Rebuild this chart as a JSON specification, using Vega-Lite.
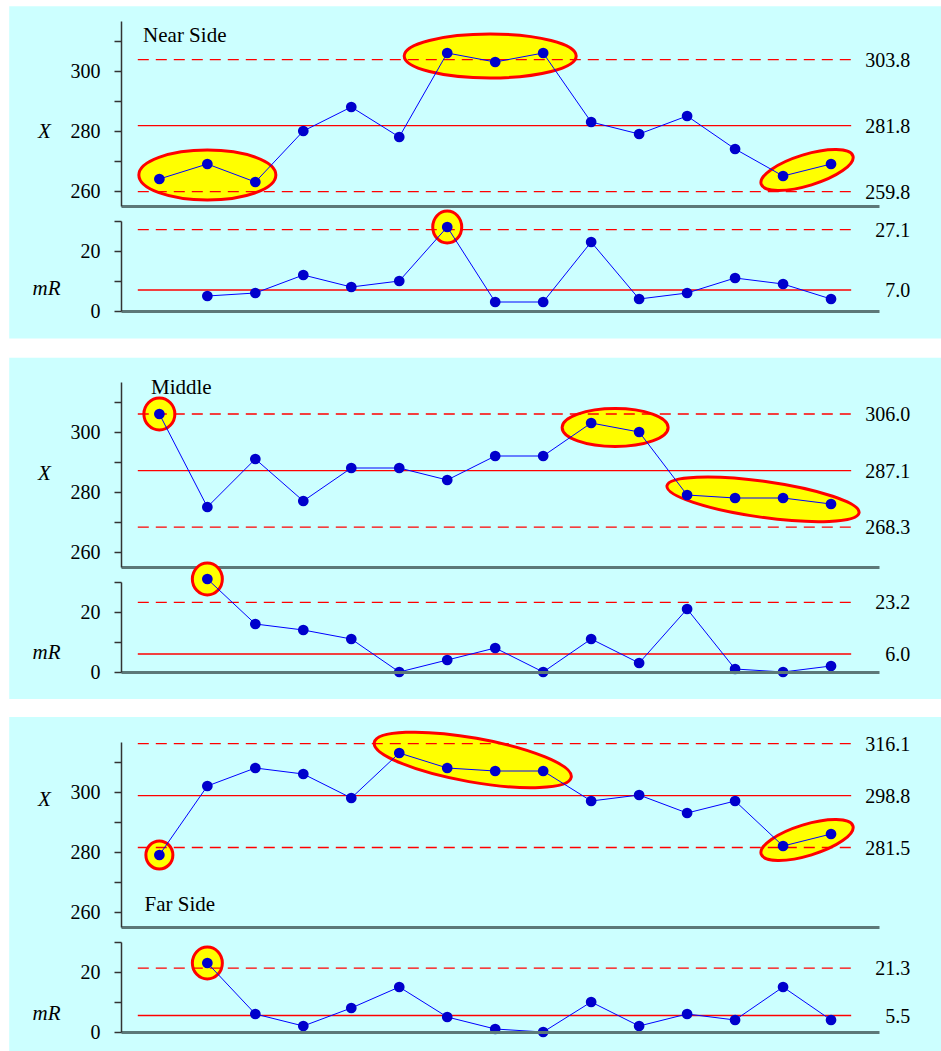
{
  "$schema": "https://vega.github.io/schema/vega-lite/v6.json",
  "background": "white",
  "padding": {"left": 9, "top": 6, "right": 0, "bottom": 1},
  "spacing": 18,
  "datasets": {
    "pts": [
      {"panel": "Near Side", "i": 1, "x": 264, "mr": null, "gx": "a", "gr": ""},
      {"panel": "Near Side", "i": 2, "x": 269, "mr": 5, "gx": "a", "gr": ""},
      {"panel": "Near Side", "i": 3, "x": 263, "mr": 6, "gx": "a", "gr": ""},
      {"panel": "Near Side", "i": 4, "x": 280, "mr": 12, "gx": "", "gr": ""},
      {"panel": "Near Side", "i": 5, "x": 288, "mr": 8, "gx": "", "gr": ""},
      {"panel": "Near Side", "i": 6, "x": 278, "mr": 10, "gx": "", "gr": ""},
      {"panel": "Near Side", "i": 7, "x": 306, "mr": 28, "gx": "b", "gr": "d"},
      {"panel": "Near Side", "i": 8, "x": 303, "mr": 3, "gx": "b", "gr": ""},
      {"panel": "Near Side", "i": 9, "x": 306, "mr": 3, "gx": "b", "gr": ""},
      {"panel": "Near Side", "i": 10, "x": 283, "mr": 23, "gx": "", "gr": ""},
      {"panel": "Near Side", "i": 11, "x": 279, "mr": 4, "gx": "", "gr": ""},
      {"panel": "Near Side", "i": 12, "x": 285, "mr": 6, "gx": "", "gr": ""},
      {"panel": "Near Side", "i": 13, "x": 274, "mr": 11, "gx": "", "gr": ""},
      {"panel": "Near Side", "i": 14, "x": 265, "mr": 9, "gx": "c", "gr": ""},
      {"panel": "Near Side", "i": 15, "x": 269, "mr": 4, "gx": "c", "gr": ""},
      {"panel": "Middle", "i": 1, "x": 306, "mr": null, "gx": "a", "gr": ""},
      {"panel": "Middle", "i": 2, "x": 275, "mr": 31, "gx": "", "gr": "d"},
      {"panel": "Middle", "i": 3, "x": 291, "mr": 16, "gx": "", "gr": ""},
      {"panel": "Middle", "i": 4, "x": 277, "mr": 14, "gx": "", "gr": ""},
      {"panel": "Middle", "i": 5, "x": 288, "mr": 11, "gx": "", "gr": ""},
      {"panel": "Middle", "i": 6, "x": 288, "mr": 0, "gx": "", "gr": ""},
      {"panel": "Middle", "i": 7, "x": 284, "mr": 4, "gx": "", "gr": ""},
      {"panel": "Middle", "i": 8, "x": 292, "mr": 8, "gx": "", "gr": ""},
      {"panel": "Middle", "i": 9, "x": 292, "mr": 0, "gx": "", "gr": ""},
      {"panel": "Middle", "i": 10, "x": 303, "mr": 11, "gx": "b", "gr": ""},
      {"panel": "Middle", "i": 11, "x": 300, "mr": 3, "gx": "b", "gr": ""},
      {"panel": "Middle", "i": 12, "x": 279, "mr": 21, "gx": "c", "gr": ""},
      {"panel": "Middle", "i": 13, "x": 278, "mr": 1, "gx": "c", "gr": ""},
      {"panel": "Middle", "i": 14, "x": 278, "mr": 0, "gx": "c", "gr": ""},
      {"panel": "Middle", "i": 15, "x": 276, "mr": 2, "gx": "c", "gr": ""},
      {"panel": "Far Side", "i": 1, "x": 279, "mr": null, "gx": "a", "gr": ""},
      {"panel": "Far Side", "i": 2, "x": 302, "mr": 23, "gx": "", "gr": "d"},
      {"panel": "Far Side", "i": 3, "x": 308, "mr": 6, "gx": "", "gr": ""},
      {"panel": "Far Side", "i": 4, "x": 306, "mr": 2, "gx": "", "gr": ""},
      {"panel": "Far Side", "i": 5, "x": 298, "mr": 8, "gx": "", "gr": ""},
      {"panel": "Far Side", "i": 6, "x": 313, "mr": 15, "gx": "b", "gr": ""},
      {"panel": "Far Side", "i": 7, "x": 308, "mr": 5, "gx": "b", "gr": ""},
      {"panel": "Far Side", "i": 8, "x": 307, "mr": 1, "gx": "b", "gr": ""},
      {"panel": "Far Side", "i": 9, "x": 307, "mr": 0, "gx": "b", "gr": ""},
      {"panel": "Far Side", "i": 10, "x": 297, "mr": 10, "gx": "", "gr": ""},
      {"panel": "Far Side", "i": 11, "x": 299, "mr": 2, "gx": "", "gr": ""},
      {"panel": "Far Side", "i": 12, "x": 293, "mr": 6, "gx": "", "gr": ""},
      {"panel": "Far Side", "i": 13, "x": 297, "mr": 4, "gx": "", "gr": ""},
      {"panel": "Far Side", "i": 14, "x": 282, "mr": 15, "gx": "c", "gr": ""},
      {"panel": "Far Side", "i": 15, "x": 286, "mr": 4, "gx": "c", "gr": ""}
    ],
    "limits": [
      {"panel": "Near Side", "chart": "X", "kind": "limit", "v": 303.8},
      {"panel": "Near Side", "chart": "X", "kind": "center", "v": 281.8},
      {"panel": "Near Side", "chart": "X", "kind": "limit", "v": 259.8},
      {"panel": "Near Side", "chart": "mR", "kind": "limit", "v": 27.1},
      {"panel": "Near Side", "chart": "mR", "kind": "center", "v": 7.0},
      {"panel": "Middle", "chart": "X", "kind": "limit", "v": 306.0},
      {"panel": "Middle", "chart": "X", "kind": "center", "v": 287.1},
      {"panel": "Middle", "chart": "X", "kind": "limit", "v": 268.3},
      {"panel": "Middle", "chart": "mR", "kind": "limit", "v": 23.2},
      {"panel": "Middle", "chart": "mR", "kind": "center", "v": 6.0},
      {"panel": "Far Side", "chart": "X", "kind": "limit", "v": 316.1},
      {"panel": "Far Side", "chart": "X", "kind": "center", "v": 298.8},
      {"panel": "Far Side", "chart": "X", "kind": "limit", "v": 281.5},
      {"panel": "Far Side", "chart": "mR", "kind": "limit", "v": 21.3},
      {"panel": "Far Side", "chart": "mR", "kind": "center", "v": 5.5}
    ]
  },
  "vconcat": [
    {
      "spacing": 15,
      "bounds": "flush",
      "vconcat": [
        {
          "width": 758, "height": 185,
          "layer": [
            {"data": {"values": [{}]}, "mark": {"type": "rect", "color": "#ccffff"},
             "encoding": {"x": {"datum": -2.13}, "x2": {"datum": 17.3}, "y": {"datum": 321.57}, "y2": {"datum": 210.8}}},
            {"data": {"name": "pts"}, "transform": [{"filter": "datum.panel === 'Near Side' && datum.gx === 'a'"}],
             "mark": {"type": "point", "shape": "M -68.5 0 A 68.5 25 0 1 0 68.5 0 A 68.5 25 0 1 0 -68.5 0 Z", "size": 4, "filled": true, "fill": "#ffff00", "stroke": "#ff0000", "strokeWidth": 3, "opacity": 1},
             "encoding": {"x": {"aggregate": "mean", "field": "i", "type": "quantitative"}, "y": {"aggregate": "mean", "field": "x", "type": "quantitative"}}},
            {"data": {"name": "pts"}, "transform": [{"filter": "datum.panel === 'Near Side' && datum.gx === 'b'"}],
             "mark": {"type": "point", "shape": "M -91 0 A 86 22 0 1 0 81 0 A 86 22 0 1 0 -91 0 Z", "size": 4, "filled": true, "fill": "#ffff00", "stroke": "#ff0000", "strokeWidth": 3, "opacity": 1},
             "encoding": {"x": {"aggregate": "mean", "field": "i", "type": "quantitative"}, "y": {"aggregate": "mean", "field": "x", "type": "quantitative"}}},
            {"data": {"name": "pts"}, "transform": [{"filter": "datum.panel === 'Near Side' && datum.gx === 'c'"}],
             "mark": {"type": "point", "shape": "M -48 0 A 48 15.5 0 1 0 48 0 A 48 15.5 0 1 0 -48 0 Z", "size": 4, "angle": 343, "filled": true, "fill": "#ffff00", "stroke": "#ff0000", "strokeWidth": 3, "opacity": 1},
             "encoding": {"x": {"aggregate": "mean", "field": "i", "type": "quantitative"}, "y": {"aggregate": "mean", "field": "x", "type": "quantitative"}}},
            {"data": {"name": "limits"}, "transform": [{"filter": "datum.panel === 'Near Side' && datum.chart === 'X'"}],
             "mark": {"type": "rule", "color": "#ff0000", "strokeWidth": 1.3},
             "encoding": {"x": {"datum": 0.55}, "x2": {"datum": 15.42}, "y": {"field": "v", "type": "quantitative"},
               "strokeDash": {"field": "kind", "type": "nominal", "scale": {"domain": ["center", "limit"], "range": [[1, 0], [11, 7]]}, "legend": null}}},
            {"data": {"name": "pts"}, "transform": [{"filter": "datum.panel === 'Near Side'"}],
             "mark": {"type": "line", "color": "#0000ff", "strokeWidth": 1},
             "encoding": {
               "x": {"field": "i", "type": "quantitative", "scale": {"domain": [0.2, 16], "nice": false, "zero": false}, "axis": {"zindex": 1, "title": null, "labels": false, "ticks": false, "domainColor": "#5c7878", "domainWidth": 3}},
               "y": {"field": "x", "type": "quantitative", "scale": {"domain": [255, 316.67], "nice": false, "zero": false},
                 "axis": {"zindex": 1, "title": "X", "tickCount": 20, "values": [260, 270, 280, 290, 300, 310], "labelExpr": "datum.value % 20 === 0 ? datum.label : ''", "labelOverlap": false, "titleFontStyle": "italic", "titleAngle": 0, "titleAlign": "center", "titleBaseline": "middle", "titleX": -77, "titleY": 110}}}},
            {"data": {"name": "pts"}, "transform": [{"filter": "datum.panel === 'Near Side'"}],
             "mark": {"type": "circle", "color": "#0000cc", "size": 115, "opacity": 1},
             "encoding": {"x": {"field": "i", "type": "quantitative"}, "y": {"field": "x", "type": "quantitative"}}},
            {"data": {"name": "limits"}, "transform": [{"filter": "datum.panel === 'Near Side' && datum.chart === 'X'"}],
             "mark": {"type": "text", "align": "right", "baseline": "middle", "dy": 1, "font": "Liberation Serif", "fontSize": 20, "color": "#000000"},
             "encoding": {"x": {"datum": 16.65}, "y": {"field": "v", "type": "quantitative"}, "text": {"field": "v", "type": "quantitative", "format": ".1f"}}},
            {"data": {"values": [{"t": "Near Side"}]},
             "mark": {"type": "text", "align": "left", "baseline": "alphabetic", "font": "Liberation Serif", "fontSize": 21, "color": "#000000"},
             "encoding": {"x": {"datum": 0.66}, "y": {"datum": 309.67}, "text": {"field": "t"}}}
          ]
        },
        {
          "width": 758, "height": 90,
          "layer": [
            {"data": {"name": "pts"}, "transform": [{"filter": "datum.panel === 'Near Side' && datum.gr === 'd'"}],
             "mark": {"type": "point", "shape": "M -14.5 0 A 14.5 16 0 1 0 14.5 0 A 14.5 16 0 1 0 -14.5 0 Z", "size": 4, "filled": true, "fill": "#ffff00", "stroke": "#ff0000", "strokeWidth": 3, "opacity": 1},
             "encoding": {"x": {"aggregate": "mean", "field": "i", "type": "quantitative"}, "y": {"aggregate": "mean", "field": "mr", "type": "quantitative"}}},
            {"data": {"name": "limits"}, "transform": [{"filter": "datum.panel === 'Near Side' && datum.chart === 'mR'"}],
             "mark": {"type": "rule", "color": "#ff0000", "strokeWidth": 1.3},
             "encoding": {"x": {"datum": 0.55}, "x2": {"datum": 15.42}, "y": {"field": "v", "type": "quantitative"},
               "strokeDash": {"field": "kind", "type": "nominal", "scale": {"domain": ["center", "limit"], "range": [[1, 0], [11, 7]]}, "legend": null}}},
            {"data": {"name": "pts"}, "transform": [{"filter": "datum.panel === 'Near Side' && datum.mr != null"}],
             "mark": {"type": "line", "color": "#0000ff", "strokeWidth": 1},
             "encoding": {
               "x": {"field": "i", "type": "quantitative", "scale": {"domain": [0.2, 16], "nice": false, "zero": false}, "axis": {"zindex": 1, "title": null, "labels": false, "ticks": false, "domainColor": "#5c7878", "domainWidth": 3}},
               "y": {"field": "mr", "type": "quantitative", "scale": {"domain": [0, 30], "nice": false, "zero": false},
                 "axis": {"zindex": 1, "title": "mR", "tickCount": 20, "values": [0, 10, 20, 30], "labelExpr": "datum.value % 20 === 0 ? datum.label : ''", "labelOverlap": false, "titleFontStyle": "italic", "titleAngle": 0, "titleAlign": "center", "titleBaseline": "middle", "titleX": -75, "titleY": 67}}}},
            {"data": {"name": "pts"}, "transform": [{"filter": "datum.panel === 'Near Side' && datum.mr != null"}],
             "mark": {"type": "circle", "color": "#0000cc", "size": 115, "opacity": 1},
             "encoding": {"x": {"field": "i", "type": "quantitative"}, "y": {"field": "mr", "type": "quantitative"}}},
            {"data": {"name": "limits"}, "transform": [{"filter": "datum.panel === 'Near Side' && datum.chart === 'mR'"}],
             "mark": {"type": "text", "align": "right", "baseline": "middle", "dy": 1, "font": "Liberation Serif", "fontSize": 20, "color": "#000000"},
             "encoding": {"x": {"datum": 16.65}, "y": {"field": "v", "type": "quantitative"}, "text": {"field": "v", "type": "quantitative", "format": ".1f"}}}
          ]
        }
      ]
    },
    {
      "spacing": 15,
      "bounds": "flush",
      "vconcat": [
        {
          "width": 758, "height": 185,
          "layer": [
            {"data": {"values": [{}]}, "mark": {"type": "rect", "color": "#ccffff"},
             "encoding": {"x": {"datum": -2.13}, "x2": {"datum": 17.3}, "y": {"datum": 324.77}, "y2": {"datum": 211.0}}},
            {"data": {"name": "pts"}, "transform": [{"filter": "datum.panel === 'Middle' && datum.gx === 'a'"}],
             "mark": {"type": "point", "shape": "M -15.5 0 A 15.5 16 0 1 0 15.5 0 A 15.5 16 0 1 0 -15.5 0 Z", "size": 4, "filled": true, "fill": "#ffff00", "stroke": "#ff0000", "strokeWidth": 3, "opacity": 1},
             "encoding": {"x": {"aggregate": "mean", "field": "i", "type": "quantitative"}, "y": {"aggregate": "mean", "field": "x", "type": "quantitative"}}},
            {"data": {"name": "pts"}, "transform": [{"filter": "datum.panel === 'Middle' && datum.gx === 'b'"}],
             "mark": {"type": "point", "shape": "M -53 0 A 53 19 0 1 0 53 0 A 53 19 0 1 0 -53 0 Z", "size": 4, "filled": true, "fill": "#ffff00", "stroke": "#ff0000", "strokeWidth": 3, "opacity": 1},
             "encoding": {"x": {"aggregate": "mean", "field": "i", "type": "quantitative"}, "y": {"aggregate": "mean", "field": "x", "type": "quantitative"}}},
            {"data": {"name": "pts"}, "transform": [{"filter": "datum.panel === 'Middle' && datum.gx === 'c'"}],
             "mark": {"type": "point", "shape": "M -93 0 A 97 18 0 1 0 101 0 A 97 18 0 1 0 -93 0 Z", "size": 4, "angle": 8, "filled": true, "fill": "#ffff00", "stroke": "#ff0000", "strokeWidth": 3, "opacity": 1},
             "encoding": {"x": {"aggregate": "mean", "field": "i", "type": "quantitative"}, "y": {"aggregate": "mean", "field": "x", "type": "quantitative"}}},
            {"data": {"name": "limits"}, "transform": [{"filter": "datum.panel === 'Middle' && datum.chart === 'X'"}],
             "mark": {"type": "rule", "color": "#ff0000", "strokeWidth": 1.3},
             "encoding": {"x": {"datum": 0.55}, "x2": {"datum": 15.42}, "y": {"field": "v", "type": "quantitative"},
               "strokeDash": {"field": "kind", "type": "nominal", "scale": {"domain": ["center", "limit"], "range": [[1, 0], [11, 7]]}, "legend": null}}},
            {"data": {"name": "pts"}, "transform": [{"filter": "datum.panel === 'Middle'"}],
             "mark": {"type": "line", "color": "#0000ff", "strokeWidth": 1},
             "encoding": {
               "x": {"field": "i", "type": "quantitative", "scale": {"domain": [0.2, 16], "nice": false, "zero": false}, "axis": {"zindex": 1, "title": null, "labels": false, "ticks": false, "domainColor": "#5c7878", "domainWidth": 3}},
               "y": {"field": "x", "type": "quantitative", "scale": {"domain": [255, 316.67], "nice": false, "zero": false},
                 "axis": {"zindex": 1, "title": "X", "tickCount": 20, "values": [260, 270, 280, 290, 300, 310], "labelExpr": "datum.value % 20 === 0 ? datum.label : ''", "labelOverlap": false, "titleFontStyle": "italic", "titleAngle": 0, "titleAlign": "center", "titleBaseline": "middle", "titleX": -77, "titleY": 91}}}},
            {"data": {"name": "pts"}, "transform": [{"filter": "datum.panel === 'Middle'"}],
             "mark": {"type": "circle", "color": "#0000cc", "size": 115, "opacity": 1},
             "encoding": {"x": {"field": "i", "type": "quantitative"}, "y": {"field": "x", "type": "quantitative"}}},
            {"data": {"name": "limits"}, "transform": [{"filter": "datum.panel === 'Middle' && datum.chart === 'X'"}],
             "mark": {"type": "text", "align": "right", "baseline": "middle", "dy": 1, "font": "Liberation Serif", "fontSize": 20, "color": "#000000"},
             "encoding": {"x": {"datum": 16.65}, "y": {"field": "v", "type": "quantitative"}, "text": {"field": "v", "type": "quantitative", "format": ".1f"}}},
            {"data": {"values": [{"t": "Middle"}]},
             "mark": {"type": "text", "align": "left", "baseline": "alphabetic", "font": "Liberation Serif", "fontSize": 21, "color": "#000000"},
             "encoding": {"x": {"datum": 0.825}, "y": {"datum": 312.8}, "text": {"field": "t"}}}
          ]
        },
        {
          "width": 758, "height": 90,
          "layer": [
            {"data": {"name": "pts"}, "transform": [{"filter": "datum.panel === 'Middle' && datum.gr === 'd'"}],
             "mark": {"type": "point", "shape": "M -15 0 A 15 16 0 1 0 15 0 A 15 16 0 1 0 -15 0 Z", "size": 4, "filled": true, "fill": "#ffff00", "stroke": "#ff0000", "strokeWidth": 3, "opacity": 1},
             "encoding": {"x": {"aggregate": "mean", "field": "i", "type": "quantitative"}, "y": {"aggregate": "mean", "field": "mr", "type": "quantitative"}}},
            {"data": {"name": "limits"}, "transform": [{"filter": "datum.panel === 'Middle' && datum.chart === 'mR'"}],
             "mark": {"type": "rule", "color": "#ff0000", "strokeWidth": 1.3},
             "encoding": {"x": {"datum": 0.55}, "x2": {"datum": 15.42}, "y": {"field": "v", "type": "quantitative"},
               "strokeDash": {"field": "kind", "type": "nominal", "scale": {"domain": ["center", "limit"], "range": [[1, 0], [11, 7]]}, "legend": null}}},
            {"data": {"name": "pts"}, "transform": [{"filter": "datum.panel === 'Middle' && datum.mr != null"}],
             "mark": {"type": "line", "color": "#0000ff", "strokeWidth": 1},
             "encoding": {
               "x": {"field": "i", "type": "quantitative", "scale": {"domain": [0.2, 16], "nice": false, "zero": false}, "axis": {"zindex": 1, "title": null, "labels": false, "ticks": false, "domainColor": "#5c7878", "domainWidth": 3}},
               "y": {"field": "mr", "type": "quantitative", "scale": {"domain": [0, 30], "nice": false, "zero": false},
                 "axis": {"zindex": 1, "title": "mR", "tickCount": 20, "values": [0, 10, 20, 30], "labelExpr": "datum.value % 20 === 0 ? datum.label : ''", "labelOverlap": false, "titleFontStyle": "italic", "titleAngle": 0, "titleAlign": "center", "titleBaseline": "middle", "titleX": -75, "titleY": 70}}}},
            {"data": {"name": "pts"}, "transform": [{"filter": "datum.panel === 'Middle' && datum.mr != null"}],
             "mark": {"type": "circle", "color": "#0000cc", "size": 115, "opacity": 1},
             "encoding": {"x": {"field": "i", "type": "quantitative"}, "y": {"field": "mr", "type": "quantitative"}}},
            {"data": {"name": "limits"}, "transform": [{"filter": "datum.panel === 'Middle' && datum.chart === 'mR'"}],
             "mark": {"type": "text", "align": "right", "baseline": "middle", "dy": 1, "font": "Liberation Serif", "fontSize": 20, "color": "#000000"},
             "encoding": {"x": {"datum": 16.65}, "y": {"field": "v", "type": "quantitative"}, "text": {"field": "v", "type": "quantitative", "format": ".1f"}}}
          ]
        }
      ]
    },
    {
      "spacing": 15,
      "bounds": "flush",
      "vconcat": [
        {
          "width": 758, "height": 185,
          "layer": [
            {"data": {"values": [{}]}, "mark": {"type": "rect", "color": "#ccffff"},
             "encoding": {"x": {"datum": -2.13}, "x2": {"datum": 17.3}, "y": {"datum": 325.0}, "y2": {"datum": 213.67}}},
            {"data": {"name": "pts"}, "transform": [{"filter": "datum.panel === 'Far Side' && datum.gx === 'a'"}],
             "mark": {"type": "point", "shape": "M -13.5 0 A 13.5 14 0 1 0 13.5 0 A 13.5 14 0 1 0 -13.5 0 Z", "size": 4, "filled": true, "fill": "#ffff00", "stroke": "#ff0000", "strokeWidth": 3, "opacity": 1},
             "encoding": {"x": {"aggregate": "mean", "field": "i", "type": "quantitative"}, "y": {"aggregate": "mean", "field": "x", "type": "quantitative"}}},
            {"data": {"name": "pts"}, "transform": [{"filter": "datum.panel === 'Far Side' && datum.gx === 'b'"}],
             "mark": {"type": "point", "shape": "M -99.5 -6 A 100 22 0 1 0 100.5 -6 A 100 22 0 1 0 -99.5 -6 Z", "size": 4, "angle": 10, "filled": true, "fill": "#ffff00", "stroke": "#ff0000", "strokeWidth": 3, "opacity": 1},
             "encoding": {"x": {"aggregate": "mean", "field": "i", "type": "quantitative"}, "y": {"aggregate": "mean", "field": "x", "type": "quantitative"}}},
            {"data": {"name": "pts"}, "transform": [{"filter": "datum.panel === 'Far Side' && datum.gx === 'c'"}],
             "mark": {"type": "point", "shape": "M -48 0 A 48 15.5 0 1 0 48 0 A 48 15.5 0 1 0 -48 0 Z", "size": 4, "angle": 343, "filled": true, "fill": "#ffff00", "stroke": "#ff0000", "strokeWidth": 3, "opacity": 1},
             "encoding": {"x": {"aggregate": "mean", "field": "i", "type": "quantitative"}, "y": {"aggregate": "mean", "field": "x", "type": "quantitative"}}},
            {"data": {"name": "limits"}, "transform": [{"filter": "datum.panel === 'Far Side' && datum.chart === 'X'"}],
             "mark": {"type": "rule", "color": "#ff0000", "strokeWidth": 1.3},
             "encoding": {"x": {"datum": 0.55}, "x2": {"datum": 15.42}, "y": {"field": "v", "type": "quantitative"},
               "strokeDash": {"field": "kind", "type": "nominal", "scale": {"domain": ["center", "limit"], "range": [[1, 0], [11, 7]]}, "legend": null}}},
            {"data": {"name": "pts"}, "transform": [{"filter": "datum.panel === 'Far Side'"}],
             "mark": {"type": "line", "color": "#0000ff", "strokeWidth": 1},
             "encoding": {
               "x": {"field": "i", "type": "quantitative", "scale": {"domain": [0.2, 16], "nice": false, "zero": false}, "axis": {"zindex": 1, "title": null, "labels": false, "ticks": false, "domainColor": "#5c7878", "domainWidth": 3}},
               "y": {"field": "x", "type": "quantitative", "scale": {"domain": [255, 316.67], "nice": false, "zero": false},
                 "axis": {"zindex": 1, "title": "X", "tickCount": 20, "values": [260, 270, 280, 290, 300, 310], "labelExpr": "datum.value % 20 === 0 ? datum.label : ''", "labelOverlap": false, "titleFontStyle": "italic", "titleAngle": 0, "titleAlign": "center", "titleBaseline": "middle", "titleX": -77, "titleY": 57}}}},
            {"data": {"name": "pts"}, "transform": [{"filter": "datum.panel === 'Far Side'"}],
             "mark": {"type": "circle", "color": "#0000cc", "size": 115, "opacity": 1},
             "encoding": {"x": {"field": "i", "type": "quantitative"}, "y": {"field": "x", "type": "quantitative"}}},
            {"data": {"name": "limits"}, "transform": [{"filter": "datum.panel === 'Far Side' && datum.chart === 'X'"}],
             "mark": {"type": "text", "align": "right", "baseline": "middle", "dy": 1, "font": "Liberation Serif", "fontSize": 20, "color": "#000000"},
             "encoding": {"x": {"datum": 16.65}, "y": {"field": "v", "type": "quantitative"}, "text": {"field": "v", "type": "quantitative", "format": ".1f"}}},
            {"data": {"values": [{"t": "Far Side"}]},
             "mark": {"type": "text", "align": "left", "baseline": "alphabetic", "font": "Liberation Serif", "fontSize": 21, "color": "#000000"},
             "encoding": {"x": {"datum": 0.69}, "y": {"datum": 260.3}, "text": {"field": "t"}}}
          ]
        },
        {
          "width": 758, "height": 90,
          "layer": [
            {"data": {"name": "pts"}, "transform": [{"filter": "datum.panel === 'Far Side' && datum.gr === 'd'"}],
             "mark": {"type": "point", "shape": "M -15 0 A 15 16 0 1 0 15 0 A 15 16 0 1 0 -15 0 Z", "size": 4, "filled": true, "fill": "#ffff00", "stroke": "#ff0000", "strokeWidth": 3, "opacity": 1},
             "encoding": {"x": {"aggregate": "mean", "field": "i", "type": "quantitative"}, "y": {"aggregate": "mean", "field": "mr", "type": "quantitative"}}},
            {"data": {"name": "limits"}, "transform": [{"filter": "datum.panel === 'Far Side' && datum.chart === 'mR'"}],
             "mark": {"type": "rule", "color": "#ff0000", "strokeWidth": 1.3},
             "encoding": {"x": {"datum": 0.55}, "x2": {"datum": 15.42}, "y": {"field": "v", "type": "quantitative"},
               "strokeDash": {"field": "kind", "type": "nominal", "scale": {"domain": ["center", "limit"], "range": [[1, 0], [11, 7]]}, "legend": null}}},
            {"data": {"name": "pts"}, "transform": [{"filter": "datum.panel === 'Far Side' && datum.mr != null"}],
             "mark": {"type": "line", "color": "#0000ff", "strokeWidth": 1},
             "encoding": {
               "x": {"field": "i", "type": "quantitative", "scale": {"domain": [0.2, 16], "nice": false, "zero": false}, "axis": {"zindex": 1, "title": null, "labels": false, "ticks": false, "domainColor": "#5c7878", "domainWidth": 3}},
               "y": {"field": "mr", "type": "quantitative", "scale": {"domain": [0, 30], "nice": false, "zero": false},
                 "axis": {"zindex": 1, "title": "mR", "tickCount": 20, "values": [0, 10, 20, 30], "labelExpr": "datum.value % 20 === 0 ? datum.label : ''", "labelOverlap": false, "titleFontStyle": "italic", "titleAngle": 0, "titleAlign": "center", "titleBaseline": "middle", "titleX": -75, "titleY": 71}}}},
            {"data": {"name": "pts"}, "transform": [{"filter": "datum.panel === 'Far Side' && datum.mr != null"}],
             "mark": {"type": "circle", "color": "#0000cc", "size": 115, "opacity": 1},
             "encoding": {"x": {"field": "i", "type": "quantitative"}, "y": {"field": "mr", "type": "quantitative"}}},
            {"data": {"name": "limits"}, "transform": [{"filter": "datum.panel === 'Far Side' && datum.chart === 'mR'"}],
             "mark": {"type": "text", "align": "right", "baseline": "middle", "dy": 1, "font": "Liberation Serif", "fontSize": 20, "color": "#000000"},
             "encoding": {"x": {"datum": 16.65}, "y": {"field": "v", "type": "quantitative"}, "text": {"field": "v", "type": "quantitative", "format": ".1f"}}}
          ]
        }
      ]
    }
  ],
  "config": {
    "view": {"stroke": null},
    "axis": {
      "grid": false,
      "labelFont": "Liberation Serif", "labelFontSize": 20, "labelColor": "#000000",
      "titleFont": "Liberation Serif", "titleFontSize": 21, "titleFontWeight": "normal", "titleColor": "#000000",
      "domainColor": "#333333", "domainWidth": 1.5, "tickColor": "#333333", "tickWidth": 1.5, "tickSize": 7, "labelPadding": 14
    }
  }
}
